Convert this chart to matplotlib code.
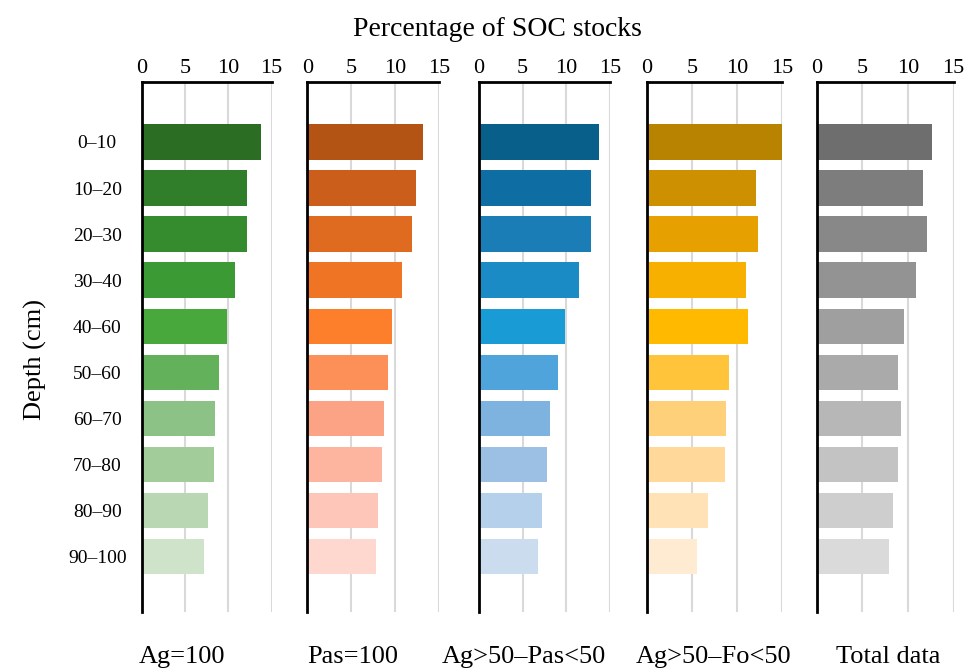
import matplotlib
matplotlib.use("Agg")
import matplotlib.pyplot as plt

plt.rcParams['font.family'] = ['Liberation Serif', 'DejaVu Serif']

depths = ['0–10', '10–20', '20–30', '30–40', '40–60', '50–60', '60–70', '70–80', '80–90', '90–100']
groups = ['Ag=100', 'Pas=100', 'Ag>50–Pas<50', 'Ag>50–Fo<50', 'Total data']

ag100 = [13.8, 12.2, 12.1, 10.8, 9.8, 8.9, 8.4, 8.3, 7.65, 7.15]
pas100 = [13.2, 12.4, 11.9, 10.8, 9.7, 9.2, 8.7, 8.5, 8.0, 7.8]
ag_pas = [13.7, 12.8, 12.8, 11.5, 9.9, 9.0, 8.1, 7.8, 7.25, 6.75]
ag_fo = [15.0, 12.1, 12.25, 11.0, 11.2, 9.1, 8.8, 8.6, 6.75, 5.55]
total = [12.6, 11.6, 12.1, 10.9, 9.6, 8.9, 9.2, 8.9, 8.3, 7.95]

greens = ['#2b6d22', '#307d2a', '#358c2f', '#3c9a35', '#48a83c',
          '#64b15c', '#8cc285', '#a2cc9a', '#bad7b3', '#cfe3cb']
oranges = ['#b35414', '#cc5e1c', '#de6b20', '#ef7424', '#fd7e2b',
           '#fd9058', '#fda385', '#fdb5a0', '#fdc6b8', '#fed7cf']
blues = ['#075f8a', '#0e6ea3', '#1a7db5', '#1b8bc5', '#199bd6',
         '#50a4dc', '#7eb2df', '#9cc0e4', '#b5d0ea', '#cbdcef']
golds = ['#b88300', '#cc9000', '#e6a000', '#f8b000', '#ffba00',
         '#ffc43a', '#ffd07a', '#ffd89a', '#ffe2b5', '#ffebd2']
greys = ['#6e6e6e', '#7d7d7d', '#888888', '#939393', '#9f9f9f',
         '#aaaaaa', '#b7b7b7', '#c3c3c3', '#cecece', '#dadada']

series = [ag100, pas100, ag_pas, ag_fo, total]
palettes = [greens, oranges, blues, golds, greys]

W, H = 968, 671
fig = plt.figure(figsize=(W / 100, H / 100), dpi=100)

# panel left edges / widths in pixels
lefts = [141.7, 307.3, 479, 646.7, 816.7]
widths = [130, 131.7, 131, 135.7, 137]
top_px, bot_px = 82, 612
label_x = [182, 353, 524, 714, 888]

for i, (vals, cols) in enumerate(zip(series, palettes)):
    ax = fig.add_axes([lefts[i] / W, 1 - bot_px / H, widths[i] / W, (bot_px - top_px) / H])
    ax.barh(range(len(depths)), vals, height=0.77, color=cols, zorder=3)
    ax.set_xlim(0, 15)
    ax.set_ylim(10.2, -1.3)
    ax.set_xticks([0, 5, 10, 15])
    ax.xaxis.tick_top()
    ax.tick_params(axis='x', length=0, pad=3, labelsize=16)
    ax.grid(axis='x', color='#d9d9d9', linewidth=1.5, zorder=0)
    for s in ('right', 'bottom'):
        ax.spines[s].set_visible(False)
    ax.spines['left'].set_linewidth(2)
    ax.spines['top'].set_linewidth(2)
    ax.spines['left'].set_zorder(4)
    if i == 0:
        ax.set_yticks(range(len(depths)), labels=depths)
        ax.tick_params(axis='y', length=0, pad=32, labelsize=14)
        for lab in ax.get_yticklabels():
            lab.set_ha('center')
    else:
        ax.set_yticks([])
    fig.text(label_x[i] / W, 1 - 657 / H, groups[i], ha='center', va='center', fontsize=19)

fig.text(497 / W, 1 - 29 / H, 'Percentage of SOC stocks', ha='center', va='center', fontsize=20)
fig.text(35 / W, 1 - 360 / H, 'Depth (cm)', ha='center', va='center', rotation=90, fontsize=19)

fig.savefig('out.png', dpi=100)
